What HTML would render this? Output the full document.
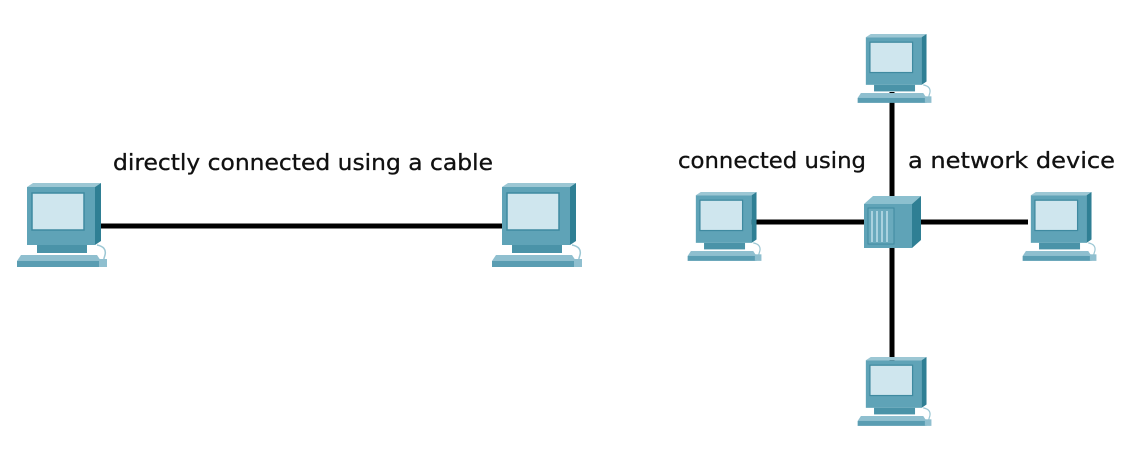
<!DOCTYPE html>
<html><head><meta charset="utf-8"><style>
html,body{margin:0;padding:0;background:#fff}
svg{display:block}
text{font-family:"DejaVu Sans","Liberation Sans",sans-serif;font-size:22px;fill:#111;stroke:#111;stroke-width:0.3}
</style></head><body>
<svg width="1123" height="449" viewBox="0 0 1123 449" xmlns="http://www.w3.org/2000/svg">
<defs>
<g id="pc">
 <polygon points="12,4 80,4 86,0 18,0" fill="#9cc7d4"/>
 <polygon points="80,4 86,0 86,58 80,62" fill="#2f7f94"/>
 <rect x="12" y="4" width="68" height="58" fill="#5fa3b7"/>
 <rect x="17" y="10" width="52" height="37" fill="#cfe6ee" stroke="#3f8aa0" stroke-width="1.5"/>
 <rect x="22" y="62" width="50" height="8" fill="#4a93a8"/>
 <polygon points="6,72 82,72 86,78 2,78" fill="#8fbfcf"/>
 <rect x="2" y="78" width="84" height="6" fill="#5a9db2"/>
 <path d="M82,62 q10,2 8,10 q-2,6 -2,10" fill="none" stroke="#9cc7d4" stroke-width="1.5"/>
 <rect x="84" y="76" width="8" height="8" fill="#8fbfcf"/>
</g>
</defs>

<line x1="98" y1="226" x2="502" y2="226" stroke="#000" stroke-width="5"/>
<use href="#pc" transform="translate(15,183)"/>
<use href="#pc" transform="translate(490,183)"/>
<text x="113" y="170" textLength="380" lengthAdjust="spacingAndGlyphs">directly connected using a cable</text>

<line x1="892" y1="92" x2="892" y2="362" stroke="#000" stroke-width="5"/>
<line x1="748" y1="222" x2="1028" y2="222" stroke="#000" stroke-width="5"/>
<use href="#pc" transform="translate(856,34) scale(0.82)"/>
<use href="#pc" transform="translate(686,192) scale(0.82)"/>
<use href="#pc" transform="translate(1021,192) scale(0.82)"/>
<use href="#pc" transform="translate(856,357) scale(0.82)"/>

<polygon points="864,204 912,204 921,196 873,196" fill="#8cc0cf"/>
<polygon points="912,204 921,196 921,240 912,248" fill="#2f7f94"/>
<rect x="864" y="204" width="48" height="44" fill="#5fa3b7"/>
<rect x="868" y="208" width="26" height="36" fill="#6aaabd" stroke="#3f8aa0"/>
<g stroke="#bfe0ea" stroke-width="1.5">
<line x1="872" y1="211" x2="872" y2="242"/><line x1="877" y1="211" x2="877" y2="242"/>
<line x1="882" y1="211" x2="882" y2="242"/><line x1="887" y1="211" x2="887" y2="242"/>
</g>

<text x="678" y="168" textLength="188" lengthAdjust="spacingAndGlyphs">connected using</text>
<text x="908" y="168" textLength="207" lengthAdjust="spacingAndGlyphs">a network device</text>
</svg>
</body></html>
